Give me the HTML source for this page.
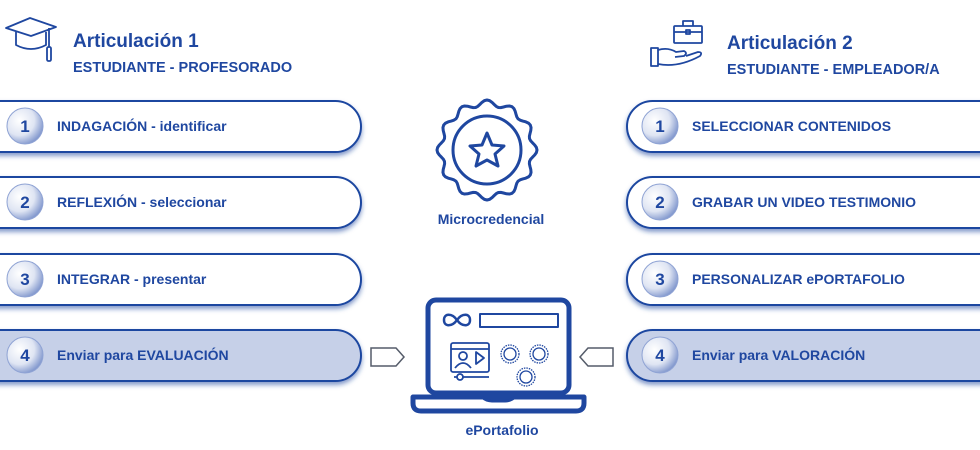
<!DOCTYPE html>
<html><head><meta charset="utf-8"><style>
body{margin:0;width:980px;height:450px;background:#fff;overflow:hidden;font-family:"Liberation Sans",Arial,sans-serif}
svg{display:block}
text{font-family:"Liberation Sans",Arial,sans-serif;font-weight:bold;fill:#1f47a0}
</style></head><body>
<svg width="980" height="450" viewBox="0 0 980 450">
<defs>
<radialGradient id="cg" cx="0.35" cy="0.35" r="0.75"><stop offset="0" stop-color="#fff"/><stop offset="0.55" stop-color="#dfe5f3"/><stop offset="1" stop-color="#6f88c6"/></radialGradient>
<filter id="sh" x="-10%" y="-30%" width="120%" height="170%"><feDropShadow dx="0" dy="3" stdDeviation="2.5" flood-color="#1f47a0" flood-opacity="0.55"/></filter>
</defs>
<g fill="none" stroke="#1f47a0" stroke-width="1.8" stroke-linejoin="round">
<path d="M6 28 L30 18 L56 27 L31 36 Z"/>
<path d="M16 32 V45 Q31 53 46 45 V32"/>
<path d="M49 28 V47"/><rect x="47" y="47" width="4" height="14" rx="1.5"/>
<rect x="674" y="26" width="28" height="17" rx="1"/><path d="M683 26 V21 H693 V26 M674 32 H702"/><rect x="686" y="30" width="4" height="4"/>
<rect x="651" y="48" width="7" height="18"/><path d="M658 50 Q668 47 676 52 L684 51 Q688 53 684 56 L675 57 M658 64 Q678 68 700 56 Q703 52 698 52 L686 56"/>
</g>
<text x="73" y="47" font-size="19">Articulación 1</text>
<text x="73" y="72" font-size="14.5">ESTUDIANTE - PROFESORADO</text>
<text x="727" y="49" font-size="19">Articulación 2</text>
<text x="727" y="74" font-size="14.5">ESTUDIANTE - EMPLEADOR/A</text>
<g stroke="#1f47a0" stroke-width="2" filter="url(#sh)">
<rect x="-40" y="101" width="401" height="51" rx="25.5" fill="#fff"/>
<rect x="-40" y="177" width="401" height="51" rx="25.5" fill="#fff"/>
<rect x="-40" y="254" width="401" height="51" rx="25.5" fill="#fff"/>
<rect x="-40" y="330" width="401" height="51" rx="25.5" fill="#c6d0e8"/>
<rect x="627" y="101" width="401" height="51" rx="25.5" fill="#fff"/>
<rect x="627" y="177" width="401" height="51" rx="25.5" fill="#fff"/>
<rect x="627" y="254" width="401" height="51" rx="25.5" fill="#fff"/>
<rect x="627" y="330" width="401" height="51" rx="25.5" fill="#c6d0e8"/>
</g>
<g fill="url(#cg)" stroke="#8fa3d4" stroke-width="1">
<circle cx="25" cy="126" r="18"/><circle cx="25" cy="202" r="18"/><circle cx="25" cy="279" r="18"/><circle cx="25" cy="355" r="18"/>
<circle cx="660" cy="126" r="18"/><circle cx="660" cy="202" r="18"/><circle cx="660" cy="279" r="18"/><circle cx="660" cy="355" r="18"/>
</g>
<g font-size="17" text-anchor="middle">
<text x="25" y="132">1</text><text x="25" y="208">2</text><text x="25" y="285">3</text><text x="25" y="361">4</text>
<text x="660" y="132">1</text><text x="660" y="208">2</text><text x="660" y="285">3</text><text x="660" y="361">4</text>
</g>
<g font-size="14">
<text x="57" y="131">INDAGACIÓN - identificar</text>
<text x="57" y="207">REFLEXIÓN - seleccionar</text>
<text x="57" y="284">INTEGRAR - presentar</text>
<text x="57" y="360">Enviar para EVALUACIÓN</text>
<text x="692" y="131">SELECCIONAR CONTENIDOS</text>
<text x="692" y="207">GRABAR UN VIDEO TESTIMONIO</text>
<text x="692" y="284">PERSONALIZAR ePORTAFOLIO</text>
<text x="692" y="360">Enviar para VALORACIÓN</text>
</g>
<g fill="none" stroke="#1f47a0" stroke-width="3" stroke-linejoin="round">
<path id="wavy"/>
<circle cx="487" cy="150" r="34"/>
<path d="M487 133 L492 145 L504 146 L495 154 L498 166 L487 160 L476 166 L479 154 L470 146 L482 145 Z"/>
</g>
<text x="491" y="224" font-size="14" text-anchor="middle">Microcredencial</text>
<g fill="#fff" stroke="#555c6a" stroke-width="1.5">
<path d="M371 348 H396 L404 357 L396 366 H371 Z"/>
<path d="M613 348 H588 L580 357 L588 366 H613 Z"/>
</g>
<g fill="none" stroke="#1f47a0" stroke-linejoin="round">
<rect x="428" y="300" width="141" height="93" rx="8" stroke-width="5"/>
<path d="M413 397 H584 V403 Q584 411 576 411 H421 Q413 411 413 403 Z" stroke-width="5"/>
<path d="M482 397 Q486 401 492 401 H505 Q511 401 515 397" stroke-width="3"/>
<rect x="480" y="314" width="78" height="13" stroke-width="2"/>
<path d="M457 320 C452 313 444 313 444 320 C444 327 452 327 457 320 C462 313 470 313 470 320 C470 327 462 327 457 320Z" stroke-width="2.5"/>
<rect x="451" y="343" width="38" height="29" rx="2" stroke-width="1.8"/>
<path d="M451 349 H489 M454 377 H489" stroke-width="1.8"/>
<circle cx="463" cy="356" r="4" stroke-width="1.8"/>
<path d="M455 368 Q463 358 471 368" stroke-width="1.8"/>
<path d="M476 352 L484 358 L476 364 Z" stroke-width="1.8"/>
<circle cx="460" cy="377" r="3" fill="#fff" stroke-width="1.8"/>
<g stroke-width="1.3">
<circle cx="510" cy="354" r="9" stroke-dasharray="1.5 1"/><circle cx="510" cy="354" r="6"/>
<circle cx="539" cy="354" r="9" stroke-dasharray="1.5 1"/><circle cx="539" cy="354" r="6"/>
<circle cx="526" cy="377" r="9" stroke-dasharray="1.5 1"/><circle cx="526" cy="377" r="6"/>
</g>
</g>
<text x="502" y="435" font-size="14" text-anchor="middle">ePortafolio</text>
</svg>
<script>
(function(){var cx=487,cy=150,d="";for(var i=0;i<=360;i+=3){var a=i*Math.PI/180;var r=47+3*Math.cos(a*12);d+=(i?"L":"M")+(cx+r*Math.sin(a)).toFixed(2)+" "+(cy-r*Math.cos(a)).toFixed(2);}document.getElementById("wavy").setAttribute("d",d+"Z");})();
</script>
</body></html>
